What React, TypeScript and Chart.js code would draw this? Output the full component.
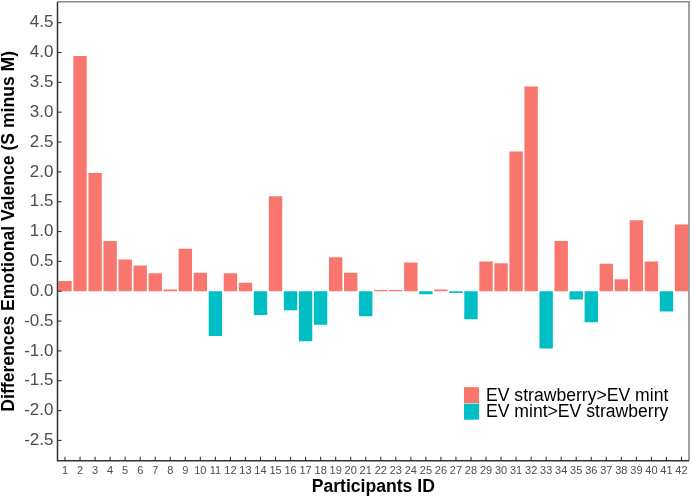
import { useEffect, useRef } from 'react';
import { Chart, registerables } from 'chart.js';

Chart.register(...registerables);

const participants = [
  '1', '2', '3', '4', '5', '6', '7', '8', '9', '10', '11', '12', '13', '14',
  '15', '16', '17', '18', '19', '20', '21', '22', '23', '24', '25', '26', '27', '28',
  '29', '30', '31', '32', '33', '34', '35', '36', '37', '38', '39', '40', '41', '42',
];

// EV strawberry minus EV mint, per participant
const differences = [
  0.17, 3.94, 1.98, 0.84, 0.53, 0.43, 0.30, 0.03, 0.71, 0.31, -0.75, 0.30, 0.14, -0.40,
  1.59, -0.32, -0.84, -0.56, 0.57, 0.31, -0.42, 0.02, 0.02, 0.48, -0.05, 0.03, -0.03, -0.47,
  0.50, 0.47, 2.34, 3.43, -0.96, 0.84, -0.14, -0.52, 0.46, 0.20, 1.19, 0.50, -0.34, 1.12,
];

const seriesLabels = ['EV strawberry>EV mint', 'EV mint>EV strawberry'];
const seriesColors = ['#F8766D', '#00BFC4'];

const yMin = -2.84;
const yMax = 4.85;

const FONT = '"Liberation Sans", Arial, sans-serif';

const frameAndLegend = {
  id: 'frameAndLegend',
  afterDraw(chart: Chart) {
    const { ctx, chartArea: a, scales } = chart;
    ctx.save();
    // light panel border on top / right
    ctx.strokeStyle = '#8a8a8a';
    ctx.lineWidth = 1.6;
    ctx.beginPath();
    ctx.moveTo(a.left, a.top);
    ctx.lineTo(a.right, a.top);
    ctx.lineTo(a.right, a.bottom);
    ctx.stroke();
    // dark axis lines
    ctx.strokeStyle = '#333333';
    ctx.lineWidth = 1.5;
    ctx.beginPath();
    ctx.moveTo(a.left, a.top);
    ctx.lineTo(a.left, a.bottom);
    ctx.lineTo(a.right, a.bottom);
    ctx.stroke();
    // inward tick marks
    ctx.lineWidth = 1.1;
    const x = scales.x;
    x.ticks.forEach((_, i) => {
      const px = x.getPixelForTick(i);
      ctx.beginPath();
      ctx.moveTo(px, a.bottom);
      ctx.lineTo(px, a.bottom - 4);
      ctx.stroke();
    });
    const y = scales.y;
    y.ticks.forEach((_, i) => {
      const py = y.getPixelForTick(i);
      ctx.beginPath();
      ctx.moveTo(a.left, py);
      ctx.lineTo(a.left + 4, py);
      ctx.stroke();
    });
    // legend, bottom right inside the panel
    const lx = a.right - 225;
    const ly = a.bottom - 73.5;
    ctx.font = `17.6px ${FONT}`;
    ctx.textBaseline = 'middle';
    ctx.textAlign = 'left';
    chart.data.datasets.forEach((ds, i) => {
      ctx.fillStyle = ds.backgroundColor as string;
      ctx.fillRect(lx, ly + i * 16.5, 15, 16);
      ctx.fillStyle = '#000000';
      ctx.fillText(ds.label as string, lx + 22, ly + i * 16.5 + 8.5);
    });
    ctx.restore();
  },
};

export default function App() {
  const canvasRef = useRef<HTMLCanvasElement | null>(null);

  useEffect(() => {
    const canvas = canvasRef.current;
    if (!canvas) return;
    const chart = new Chart(canvas, {
      type: 'bar',
      data: {
        labels: participants,
        datasets: [
          {
            label: seriesLabels[0],
            data: differences.map((v) => (v >= 0 ? v : null)),
            backgroundColor: seriesColors[0],
            grouped: false,
            barPercentage: 0.89,
            categoryPercentage: 1,
          },
          {
            label: seriesLabels[1],
            data: differences.map((v) => (v < 0 ? v : null)),
            backgroundColor: seriesColors[1],
            grouped: false,
            barPercentage: 0.89,
            categoryPercentage: 1,
          },
        ],
      },
      options: {
        animation: false,
        responsive: true,
        maintainAspectRatio: false,
        layout: { padding: { top: 1.8, right: 3, left: 0, bottom: 0 } },
        plugins: { legend: { display: false }, tooltip: { enabled: false } },
        scales: {
          x: {
            type: 'category',
            offset: true,
            grid: { display: false, drawTicks: false },
            border: { display: false },
            ticks: {
              color: '#4D4D4D',
              font: { family: FONT, size: 11 },
              padding: 4,
              maxRotation: 0,
              autoSkip: false,
            },
            title: {
              display: true,
              text: 'Participants ID',
              color: '#000000',
              font: { family: FONT, size: 17.6, weight: 'bold', lineHeight: 1 },
              padding: { top: 0, bottom: 3.2 },
            },
            afterFit: (s) => {
              s.height = 38.3;
              s.paddingLeft = 0;
              s.paddingRight = 0;
            },
          },
          y: {
            type: 'linear',
            min: yMin,
            max: yMax,
            grid: { display: false, drawTicks: false },
            border: { display: false },
            ticks: {
              stepSize: 0.5,
              includeBounds: false,
              color: '#4D4D4D',
              font: { family: FONT, size: 17 },
              padding: 4,
              callback: (v) => Number(v).toFixed(1),
            },
            title: {
              display: true,
              text: 'Differences Emotional Valence (S minus M)',
              color: '#000000',
              font: { family: FONT, size: 17.6, weight: 'bold', lineHeight: 1 },
              padding: { top: 0.3, bottom: 0 },
            },
            afterFit: (s) => {
              s.width = 57.5;
              s.paddingTop = 0;
              s.paddingBottom = 0;
            },
          },
        },
      },
      plugins: [frameAndLegend],
    });
    return () => chart.destroy();
  }, []);

  return (
    <div style={{ position: 'fixed', left: 0, top: 0, width: 692, height: 499, background: '#ffffff' }}>
      <canvas ref={canvasRef} />
    </div>
  );
}
